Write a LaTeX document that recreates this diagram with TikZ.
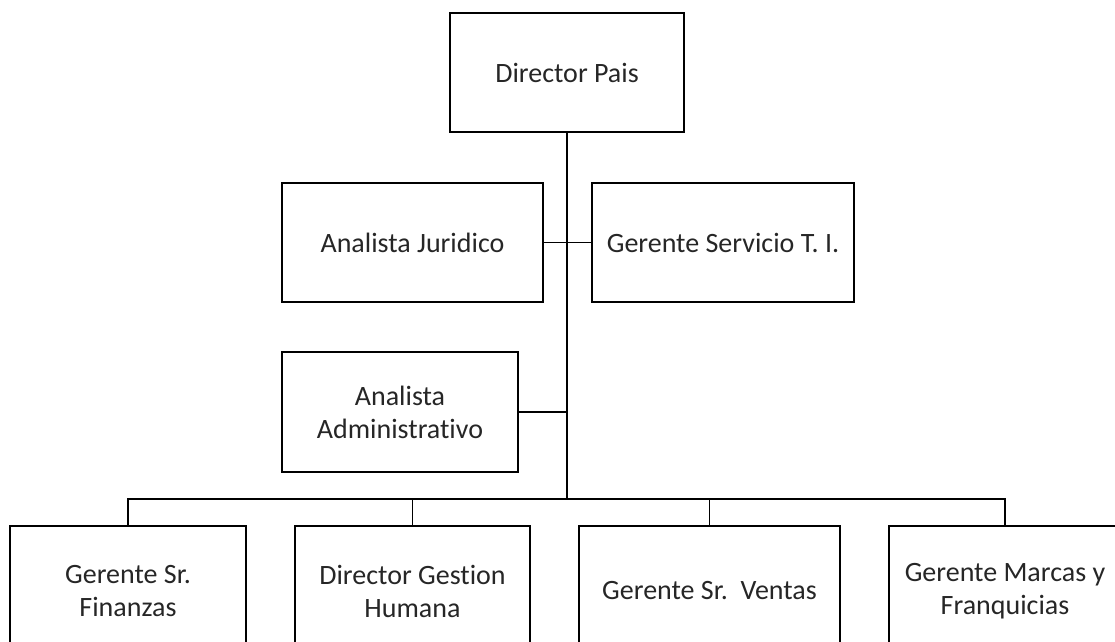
\documentclass[tikz,border=0pt]{standalone}
\usepackage{fontspec}
\setmainfont{Carlito}[Ligatures={NoCommon,NoRare,NoDiscretionary}]

\begin{document}
\begin{tikzpicture}[x=1pt, y=-1pt,
		main/.style = {draw, line width=2.2pt, align=center, inner sep=0pt, text=black!85, font=\fontsize{28}{33}\selectfont},
		link/.style = {line width=1.7pt}]
			\useasboundingbox (0,0) rectangle (1115,641);
			\node[main, minimum width=234pt, minimum height=119pt] (pais) at (567,72.5) {Director Pais};
			\node[main, minimum width=261pt, minimum height=119pt] (juridico) at (412.5,242.5) {Analista Juridico};
			\node[main, minimum width=262pt, minimum height=119pt] (ti) at (723,242.5) {Gerente Servicio T. I.};
			\node[main, minimum width=236pt, minimum height=120pt] (admin) at (400,412) {Analista\\Administrativo};
			\node[main, minimum width=236pt, minimum height=130pt] (finanzas) at (128,591) {Gerente Sr.\\Finanzas};
			\node[main, minimum width=235pt, minimum height=130pt] (humana) at (412.5,591) {Director Gestion\\Humana};
			\node[main, minimum width=261pt, minimum height=130pt] (ventas) at (709.5,591) {Gerente Sr.~~Ventas};
			\node[main, minimum width=232pt, minimum height=130pt] (marcas) at (1005,591) {Gerente Marcas y\\Franquicias};
			\coordinate (bus) at (567,499);
			\draw[line width=2.6pt] (pais) -- (bus);
			\draw[link] (juridico) -- (ti);
			\draw[link] (admin.east) -- (admin.east -| bus);
			\draw[link] (finanzas.north) |- (bus) -| (marcas.north);
			\draw[link] (humana.north) -- (humana.north |- bus);
			\draw[link] (ventas.north) -- (ventas.north |- bus);
		\end{tikzpicture}
\end{document}
